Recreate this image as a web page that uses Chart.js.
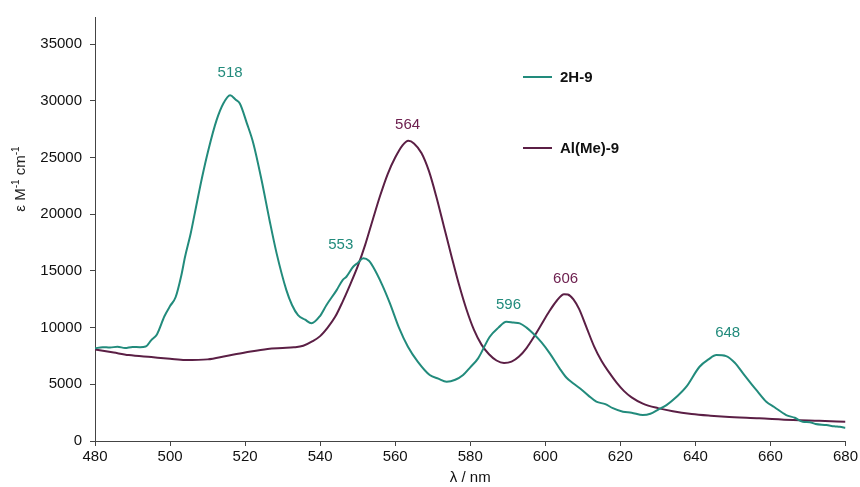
<!DOCTYPE html>
<html>
<head>
<meta charset="utf-8">
<script src="https://cdn.jsdelivr.net/npm/chart.js@4.4.1/dist/chart.umd.min.js"></script>
<style>
html,body{margin:0;padding:0;background:#fff;}
#wrap{width:860px;height:487px;}
</style>
</head>
<body>
<div id="wrap"><canvas id="c" width="860" height="487"></canvas></div>
<script>
// ---- data ----
const seriesNames = ['2H-9', 'Al(Me)-9'];
const lambda2H = [480,482,484,486,488,490,492,493.5,495,496.5,498.5,500,501.5,503,504,505.5,506.6,508.5,510.2,512.4,514.2,516,517.5,518.6,520.5,522.2,524.4,526.5,528.4,531,532.5,534.1,536,537.7,539.9,541.7,544.4,546,547,548.8,550,551.5,553,554.1,556.5,558.6,561,563.4,566,569.2,571.5,573.7,576,578.1,580,582.1,585.2,587.5,589.6,591.5,593.2,595,596.7,599,601.2,603.8,605.6,607.4,609.2,611.5,613.6,616,618,620.7,623,626,628,630,632.3,635,637.6,641.1,643.5,645.6,648.2,650.5,652.7,655,656.5,658.9,661,664.2,666.5,668.6,670.5,672,674.9,677,678.5,680];
const eps2H = [8170,8280,8240,8320,8200,8300,8280,8330,8900,9400,11000,11900,12700,14600,16250,18300,20100,23200,25650,28300,29770,30500,30100,29770,28000,26250,23000,19500,16550,13310,12000,11110,10700,10380,11000,12000,13310,14200,14490,15370,15700,16110,15900,15370,13800,12140,10000,8310,7000,5820,5500,5230,5400,5820,6500,7290,9200,10000,10520,10450,10380,10000,9500,8700,7730,6410,5600,5090,4650,4000,3470,3250,2900,2580,2500,2290,2400,2750,3170,3900,4790,6550,7200,7580,7490,6900,5970,5000,4400,3470,3000,2290,2050,1700,1650,1500,1410,1300,1250,1170];
const lambdaAl = [480,485,489,495,500,504,510,515,520,526,530,533,535.5,538,540,542,544,546,548,550,552,554,556,558,560,562,563.5,565,567,569,571,573,575,577,579,581,583,585,587,589,591,593,595,597,599,601,603,605,606,607.5,609,611,613,615,617,619,621,623,626,630,634,639,644,648,657,666,673,680];
const epsAl = [8080,7800,7580,7400,7250,7140,7200,7500,7800,8120,8200,8260,8400,8800,9250,10000,10950,12300,13800,15400,17300,19500,21650,23550,25000,26100,26480,26250,25400,23800,21500,18900,16300,13800,11600,9800,8500,7650,7100,6880,7000,7450,8200,9200,10300,11400,12350,12950,12920,12500,11650,10000,8350,7050,6050,5150,4400,3850,3300,2900,2620,2380,2230,2140,2000,1850,1780,1700];
const xTicks = [480,500,520,540,560,580,600,620,640,660,680];
const yTicks = [0,5000,10000,15000,20000,25000,30000,35000];
const peakText   = ['518','553','596','648','564','606'];
const peakSeries = [0,0,0,0,1,1];
const peakLambda = [516,545.5,590.2,648.6,563.3,605.4];
const peakEps    = [32440,17280,11990,9520,27860,14280];

const colTeal = '#228b7c';
const colMaroon = '#5b1f45';
const colMaroonText = '#6e2150';
const seriesColors = [colTeal, colMaroon];
const labelColors = [colTeal, colMaroonText];
const FONT = '"Liberation Sans", Arial, Helvetica, sans-serif';

const pts = (xs, ys) => xs.map((x, i) => ({x: x, y: ys[i]}));

const annotPlugin = {
  id: 'annot',
  afterDatasetsDraw(chart) {
    const ctx = chart.ctx;
    const xs = chart.scales.x, ys = chart.scales.y;
    ctx.save();
    ctx.font = '15px ' + FONT;
    ctx.textAlign = 'center';
    ctx.textBaseline = 'middle';
    peakText.forEach((t, i) => {
      ctx.fillStyle = labelColors[peakSeries[i]];
      ctx.fillText(t, xs.getPixelForValue(peakLambda[i]), ys.getPixelForValue(peakEps[i]));
    });
    const legY = [77, 148];
    ctx.font = 'bold 15px ' + FONT;
    ctx.textAlign = 'left';
    seriesNames.forEach((n, i) => {
      ctx.strokeStyle = seriesColors[i];
      ctx.lineWidth = 2;
      ctx.beginPath();
      ctx.moveTo(523, legY[i]);
      ctx.lineTo(552, legY[i]);
      ctx.stroke();
      ctx.fillStyle = '#111';
      ctx.fillText(n, 560, legY[i] + 1);
    });
    ctx.translate(20, 179);
    ctx.rotate(-Math.PI / 2);
    ctx.fillStyle = '#222';
    ctx.textBaseline = 'alphabetic';
    const parts = [['ε M', 15, 0], ['-1', 10, -6], [' cm', 15, 0], ['-1', 10, -6]];
    let w = 0;
    parts.forEach(p => { ctx.font = p[1] + 'px ' + FONT; w += ctx.measureText(p[0]).width; });
    let cx = -w / 2;
    parts.forEach(p => {
      ctx.font = p[1] + 'px ' + FONT;
      ctx.fillText(p[0], cx, 5 + p[2]);
      cx += ctx.measureText(p[0]).width;
    });
    ctx.restore();
  }
};

new Chart(document.getElementById('c'), {
  type: 'line',
  data: {
    datasets: [
      {label: seriesNames[0], data: pts(lambda2H, eps2H), borderColor: colTeal, borderWidth: 2, pointRadius: 0, tension: 0.3, cubicInterpolationMode: 'monotone', fill: false},
      {label: seriesNames[1], data: pts(lambdaAl, epsAl), borderColor: colMaroon, borderWidth: 2, pointRadius: 0, tension: 0.4, cubicInterpolationMode: 'monotone', fill: false}
    ]
  },
  options: {
    responsive: false,
    animation: false,
    devicePixelRatio: 1,
    layout: {padding: {left: 0, top: 17, right: 14, bottom: 0}},
    plugins: {legend: {display: false}, tooltip: {enabled: false}},
    scales: {
      x: {
        type: 'linear', min: 480, max: 680,
        afterBuildTicks: s => { s.ticks = xTicks.map(v => ({value: v})); },
        afterFit: s => { s.height = 46; },
        grid: {drawOnChartArea: false, drawTicks: true, tickLength: 5, color: '#444', tickWidth: 1},
        border: {color: '#444', width: 1},
        ticks: {color: '#111', font: {size: 15, family: FONT}, padding: 2, maxRotation: 0, autoSkip: false, callback: v => String(v)},
        title: {display: true, text: 'λ / nm', color: '#111', font: {size: 15, family: FONT}, padding: {top: 0, bottom: 0}}
      },
      y: {
        type: 'linear', min: 0, max: 37400,
        afterBuildTicks: s => { s.ticks = yTicks.map(v => ({value: v})); },
        afterFit: s => { s.width = 95; },
        grid: {drawOnChartArea: false, drawTicks: true, tickLength: 5, color: '#444', tickWidth: 1},
        border: {color: '#444', width: 1},
        ticks: {color: '#111', font: {size: 15, family: FONT}, padding: 8, autoSkip: false, callback: v => String(v)}
      }
    }
  },
  plugins: [annotPlugin]
});
</script>
</body>
</html>
